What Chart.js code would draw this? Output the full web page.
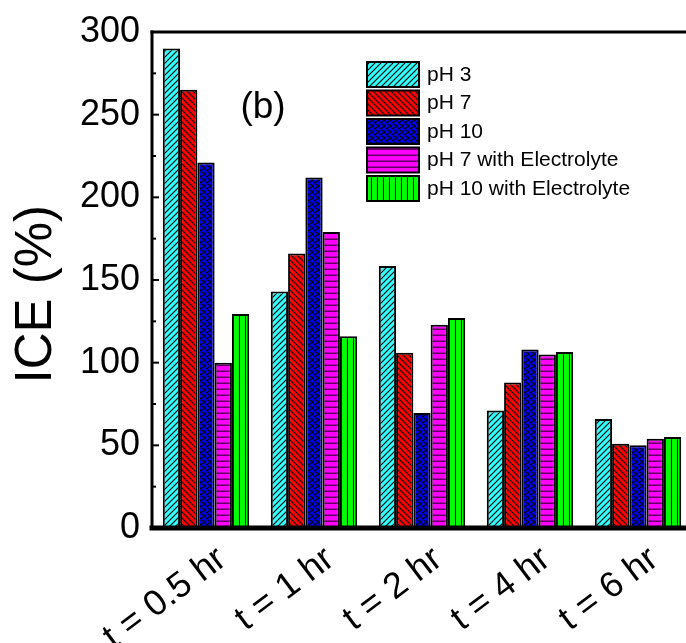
<!DOCTYPE html>
<html>
<head>
<meta charset="utf-8">
<script src="https://cdn.jsdelivr.net/npm/chart.js@4"></script>
<style>
  html, body { margin: 0; padding: 0; background: #fff; overflow: hidden; }
  #wrap { width: 686px; height: 643px; overflow: hidden; position: relative; }
  #wrap canvas { position: absolute; left: 0; top: 0; }
</style>
</head>
<body>
<div id="wrap"><canvas id="iceChart" width="700" height="643"></canvas></div>
<script>
// categories and series
const tempos = ['t = 0.5 hr', 't = 1 hr', 't = 2 hr', 't = 4 hr', 't = 6 hr'];
const series = ['pH 3', 'pH 7', 'pH 10', 'pH 7 with Electrolyte', 'pH 10 with Electrolyte'];
const ph3 = [290, 143, 158.5, 71, 66];
const ph7 = [265, 166, 106, 88, 51];
const ph10 = [221, 212, 69.5, 108, 50];
const ph7Eletrolito = [100, 179, 123, 105, 54];
const ph10Eletrolito = [129.5, 116, 127, 106.5, 55];
const yTicks = [0, 50, 100, 150, 200, 250, 300];

const FONTE = '"Liberation Sans", Arial, sans-serif';

// hachuras desenhadas em pequenos tiles
function hachura(cor, tipo) {
    const t = document.createElement('canvas');
    const s = 6;
    t.width = s; t.height = s;
    const c = t.getContext('2d');
    c.fillStyle = cor;
    c.fillRect(0, 0, s, s);
    c.strokeStyle = '#000';
    c.lineWidth = 1.1;
    c.beginPath();
    if (tipo === '/' || tipo === 'x') {
        c.moveTo(0, s); c.lineTo(s, 0);
        c.moveTo(-1, 1); c.lineTo(1, -1);
        c.moveTo(s - 1, s + 1); c.lineTo(s + 1, s - 1);
    }
    if (tipo === '\\' || tipo === 'x') {
        c.moveTo(0, 0); c.lineTo(s, s);
        c.moveTo(s - 1, -1); c.lineTo(s + 1, 1);
        c.moveTo(-1, s - 1); c.lineTo(1, s + 1);
    }
    if (tipo === '-') {
        c.strokeStyle = '#600060';
        c.lineWidth = 1.5;
        c.moveTo(0, s - 0.75); c.lineTo(s, s - 0.75);
    }
    if (tipo === '|') {
        c.moveTo(s - 0.5, 0); c.lineTo(s - 0.5, s);
    }
    c.stroke();
    return c.createPattern(t, 'repeat');
}

const padroes = [
    hachura('#33ffff', '/'),
    hachura('#ff0000', '\\'),
    hachura('#0000ff', 'x'),
    hachura('#ff00ff', '-'),
    hachura('#00ff00', '|')
];
const valores = [ph3, ph7, ph10, ph7Eletrolito, ph10Eletrolito];

// moldura, marcas dos eixos, legenda e o rótulo (b)
const extras = {
    id: 'extras',
    afterDraw(chart) {
        const ctx = chart.ctx;
        const a = chart.chartArea;
        const y = chart.scales.y;
        ctx.save();
        ctx.strokeStyle = '#000';
        ctx.lineCap = 'square';
        // moldura superior e direita
        ctx.lineWidth = 3;
        ctx.beginPath();
        ctx.moveTo(a.left, a.top); ctx.lineTo(a.right, a.top); ctx.lineTo(a.right, a.bottom);
        ctx.stroke();
        // eixo esquerdo
        ctx.beginPath();
        ctx.moveTo(a.left, a.top); ctx.lineTo(a.left, a.bottom);
        ctx.stroke();
        // eixo inferior
        ctx.lineWidth = 5;
        ctx.beginPath();
        ctx.moveTo(a.left, a.bottom); ctx.lineTo(a.right, a.bottom);
        ctx.stroke();
        // marcas para dentro
        ctx.lineWidth = 2;
        for (let v = 0; v <= 300; v += 25) {
            const py = y.getPixelForValue(v);
            const len = v % 50 === 0 ? 6 : 3;
            ctx.beginPath();
            ctx.moveTo(a.left, py); ctx.lineTo(a.left + len, py);
            ctx.stroke();
        }
        // legenda
        ctx.font = '21px ' + FONTE;
        ctx.textBaseline = 'middle';
        ctx.fillStyle = '#000';
        chart.data.datasets.forEach((ds, i) => {
            const lx = 367, ly = 62 + i * 28.5;
            ctx.fillStyle = ds.backgroundColor;
            ctx.fillRect(lx, ly, 52, 25);
            ctx.lineWidth = 2;
            ctx.strokeRect(lx, ly, 52, 25);
            ctx.fillStyle = '#000';
            ctx.fillText(ds.label, lx + 60, ly + 13);
        });
        ctx.font = '37px ' + FONTE;
        ctx.textAlign = 'center';
        ctx.fillText('(b)', 263, 108);
        ctx.restore();
    }
};

const ctx = document.getElementById('iceChart').getContext('2d');
new Chart(ctx, {
    type: 'bar',
    data: {
        labels: tempos,
        datasets: series.map((nome, i) => ({
            label: nome,
            data: valores[i],
            backgroundColor: padroes[i],
            borderColor: '#000',
            borderWidth: 2,
            borderSkipped: 'bottom',
            categoryPercentage: 0.8,
            barPercentage: 1.0
        }))
    },
    options: {
        responsive: false,
        animation: false,
        layout: { padding: { left: 0, top: 32, right: 8, bottom: 0 } },
        plugins: { legend: { display: false }, tooltip: { enabled: false } },
        scales: {
            x: {
                grid: { display: false },
                border: { display: false },
                ticks: {
                    color: '#000',
                    font: { family: FONTE, size: 36 },
                    maxRotation: 37,
                    minRotation: 37,
                    padding: 2,
                    labelOffset: 16
                },
                afterFit(scale) { scale.height = 115; }
            },
            y: {
                min: 0,
                max: 300,
                grid: { display: false },
                border: { display: false },
                afterBuildTicks(scale) { scale.ticks = yTicks.map(v => ({ value: v })); },
                ticks: {
                    color: '#000',
                    font: { family: FONTE, size: 36 },
                    padding: 4
                },
                title: {
                    display: true,
                    text: 'ICE (%)  ',
                    color: '#000',
                    font: { family: FONTE, size: 51 },
                    padding: { top: 6, bottom: 0 }
                },
                afterFit(scale) { scale.width = 152; }
            }
        }
    },
    plugins: [extras]
});
</script>
</body>
</html>
